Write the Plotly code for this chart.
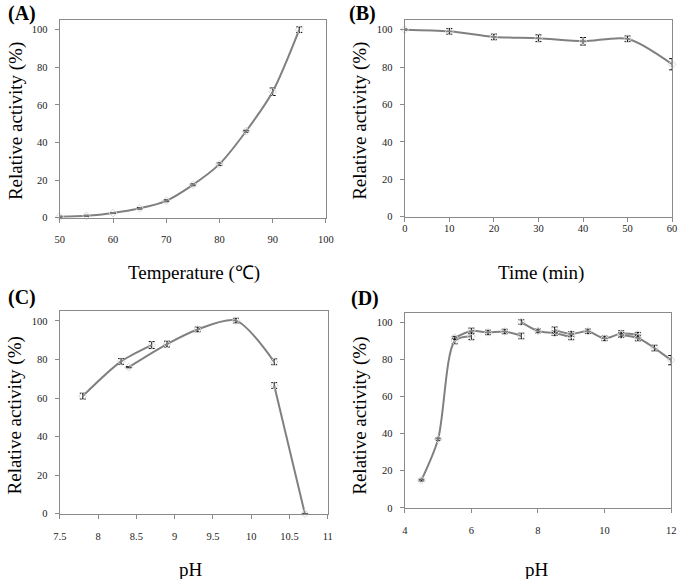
import plotly.graph_objects as go

# ---- Data ----
# (A) temperature
temp_x = [50, 55, 60, 65, 70, 75, 80, 85, 90, 95]
temp_y = [0.5, 1, 2.5, 5, 9, 17.5, 28.5, 46, 67, 100]
temp_err = [0.3, 0.3, 0.3, 0.4, 0.5, 0.5, 0.7, 0.5, 2, 1.5]

# (B) time
time_x = [0, 10, 20, 30, 40, 50, 60]
time_y = [100, 99.1, 96.1, 95.4, 93.8, 95.1, 81.5]
time_err = [0.3, 1.5, 1.5, 1.8, 2, 1.5, 3]

# (C) pH optimum, three buffers
c1_x = [7.8, 8.3, 8.7]
c1_y = [61, 79, 87.5]
c1_err = [1.5, 1.5, 1.8]
c2_x = [8.4, 8.9, 9.3, 9.8, 10.3]
c2_y = [76, 88, 95.6, 100.2, 78.8]
c2_err = [0.3, 1.5, 1.2, 1.2, 1.5]
c3_x = [10.3, 10.7]
c3_y = [66.5, 0]
c3_err = [1.5, 0]

# (D) pH stability, five buffers
d1_x = [4.5, 5, 5.5, 6]
d1_y = [15, 37, 89.8, 92.3]
d1_err = [0.5, 0.6, 1.5, 1.8]
d2_x = [5.5, 6, 6.5, 7, 7.5]
d2_y = [91.5, 95.2, 94.4, 94.9, 92.5]
d2_err = [0.8, 1.5, 1.2, 1.2, 1.5]
d3_x = [7.5, 8, 8.5, 9]
d3_y = [100, 95.2, 94, 92]
d3_err = [1.2, 1, 1.2, 1.5]
d4_x = [8.5, 9, 9.5, 10, 10.5, 11]
d4_y = [95.8, 93.6, 95, 91.2, 93.8, 93.2]
d4_err = [1.5, 1.2, 1.2, 1.2, 1.5, 1.2]
d5_x = [10.5, 11, 11.5, 12]
d5_y = [93, 91.4, 86, 79.5]
d5_err = [1.2, 1.5, 1.5, 2.5]

panel_labels = ["(A)", "(B)", "(C)", "(D)"]
x_titles = ["Temperature (\u2103)", "Time (min)", "pH", "pH"]
y_title = "Relative activity (%)"

# ---- Figure ----
W, H = 685, 579
fig = go.Figure()

LINE = "#808080"
SERIF = "Liberation Serif"


def add(x, y, err, ax):
    fig.add_trace(go.Scatter(
        x=x, y=y, mode="lines+markers", cliponaxis=False,
        line=dict(color=LINE, width=2, shape="spline", smoothing=0.8),
        marker=dict(symbol="diamond-open", size=6, color="#d8d8d8",
                    line=dict(width=1, color="#d8d8d8")),
        error_y=dict(type="data", array=err, visible=True, color="#111111",
                     thickness=1, width=3),
        xaxis="x" + ax, yaxis="y" + ax, showlegend=False, hoverinfo="x+y"))


add(temp_x, temp_y, temp_err, "")
add(time_x, time_y, time_err, "2")
add(c1_x, c1_y, c1_err, "3")
add(c2_x, c2_y, c2_err, "3")
add(c3_x, c3_y, c3_err, "3")
for xs, ys, es in [(d1_x, d1_y, d1_err), (d2_x, d2_y, d2_err), (d3_x, d3_y, d3_err),
                   (d4_x, d4_y, d4_err), (d5_x, d5_y, d5_err)]:
    add(xs, ys, es, "4")


def px_x(p):
    return p / W


def px_y(p):
    return 1 - p / H


# pixel boxes: left, right, y0 (value 0 pixel), y_top (value 105 pixel)
boxes = [
    (54, 326, 220, 20.5),
    (406.7, 680, 219, 20.5),
    (54, 328, 519, 314.6),
    (406.7, 679, 513.3, 316),
]
xranges = [[50, 100], [0, 60], [7.5, 11], [4, 12]]
xdticks = [10, 10, 0.5, 2]
xstand = [8, -2, 9, 8]

axis_common = dict(showgrid=False, zeroline=False, showline=True, linecolor="#8a8a8a",
                   linewidth=1.3, mirror=True, ticks="outside", ticklen=4,
                   tickcolor="#8a8a8a", tickfont=dict(family=SERIF, size=10.5, color="#222222"))

for i, (l, r, y0, yt) in enumerate(boxes):
    sfx = "" if i == 0 else str(i + 1)
    fig.layout["xaxis" + sfx] = dict(
        domain=[px_x(l), px_x(r)], range=xranges[i], dtick=xdticks[i], tick0=xranges[i][0],
        anchor="y" + sfx, ticklabelstandoff=xstand[i], **axis_common)
    fig.layout["yaxis" + sfx] = dict(
        domain=[px_y(y0), px_y(yt)], range=[0, 105], tickvals=[0, 20, 40, 60, 80, 100],
        anchor="x" + sfx, ticklabelstandoff=5, **axis_common)

annotations = []
# panel labels
label_pos = [(-1, 0), (348, 0), (-1, 287), (350, 288)]
for t, (x, y) in zip(panel_labels, label_pos):
    annotations.append(dict(text="<b>" + t + "</b>", x=px_x(x), y=px_y(y), xref="paper",
                            yref="paper", xanchor="left", yanchor="top", showarrow=False,
                            font=dict(family=SERIF, size=20, color="#000000")))
# x titles
xt_pos = [(191, 276), (546, 276), (188, 575), (542, 575)]
for t, (x, y) in zip(x_titles, xt_pos):
    annotations.append(dict(text=t, x=px_x(x), y=px_y(y), xref="paper", yref="paper",
                            xanchor="center", yanchor="middle", showarrow=False,
                            font=dict(family=SERIF, size=19, color="#000000")))
# y titles
yt_pos = [(8.5, 122), (361, 122), (8, 420), (361, 420)]
for (x, y) in yt_pos:
    annotations.append(dict(text=y_title, x=px_x(x), y=px_y(y), xref="paper", yref="paper",
                            xanchor="center", yanchor="middle", showarrow=False, textangle=-90,
                            font=dict(family=SERIF, size=19, color="#000000")))

fig.update_layout(width=W, height=H, margin=dict(l=0, r=0, t=0, b=0),
                  paper_bgcolor="white", plot_bgcolor="white", annotations=annotations)

fig.write_html("out.html", config={"displayModeBar": False},
               post_script="document.body.style.margin='0';")
